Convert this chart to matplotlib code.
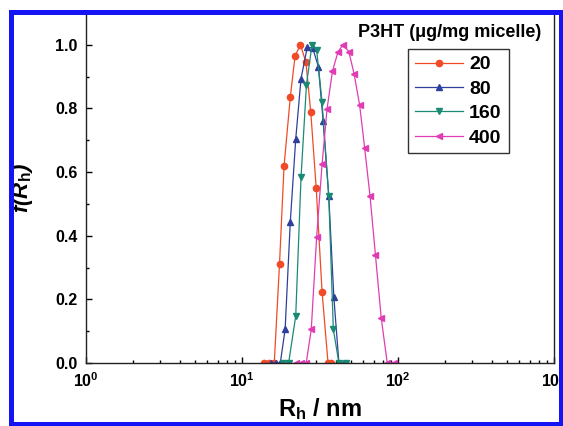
import matplotlib
matplotlib.use("Agg")
import matplotlib.pyplot as plt
from matplotlib.patches import Rectangle
from matplotlib.ticker import LogLocator, MultipleLocator, FixedLocator, FixedFormatter

plt.rcParams['font.family'] = ['Liberation Sans', 'DejaVu Sans']
plt.rcParams['font.weight'] = 'bold'
plt.rcParams['mathtext.fontset'] = 'custom'
plt.rcParams['mathtext.rm'] = 'Liberation Sans:bold'
plt.rcParams['mathtext.it'] = 'Liberation Sans:bold:italic'
plt.rcParams['mathtext.bf'] = 'Liberation Sans:bold'
plt.rcParams['mathtext.default'] = 'bf'

# hydrodynamic radius distributions (R_h in nm)
rh_20 = [13.8, 14.9, 16.1, 17.4, 18.6, 20.4, 21.9, 23.7, 25.7, 27.6, 29.9, 32.6, 35.6, 37.2]
f_20 = [0, 0, 0, 0.312, 0.619, 0.836, 0.966, 1.0, 0.945, 0.788, 0.55, 0.224, 0, 0]

rh_80 = [15.3, 16.5, 17.6, 18.9, 20.4, 22.1, 23.9, 26.2, 28.4, 30.9, 33.1, 36.0, 38.8, 41.8, 45.2]
f_80 = [0, 0, 0, 0.106, 0.444, 0.704, 0.894, 0.992, 0.99, 0.931, 0.762, 0.524, 0.206, 0, 0]

rh_160 = [18.4, 19.9, 22.1, 23.9, 25.9, 28.1, 30.1, 32.6, 36.0, 38.5, 41.8, 46.5]
f_160 = [0, 0, 0.148, 0.584, 0.875, 1.0, 0.984, 0.82, 0.524, 0.106, 0, 0]

rh_400 = [22.1, 23.9, 25.8, 27.8, 30.1, 32.6, 35.1, 38.0, 41.3, 44.5, 48.4, 52.4,
          56.8, 61.1, 66.2, 71.7, 78.0, 85.3, 94.9]
f_400 = [0, 0, 0, 0.106, 0.397, 0.624, 0.799, 0.917, 0.979, 1.0, 0.979, 0.907,
         0.81, 0.677, 0.524, 0.339, 0.143, 0, 0]

labels = ['20', '80', '160', '400']
colors = ['#f04a26', '#2f3f9c', '#1a8a74', '#e03db4']
markers = ['o', '^', 'v', '<']

xticks = [1, 10, 100, 1000]
xticklabels = [r'$10^{0}$', r'$10^{1}$', r'$10^{2}$', r'$10^{3}$']

fig = plt.figure(figsize=(5.63, 4.26), dpi=100)
ax = fig.add_axes([86/563, 1 - 363/426, 468/563, 349/426])

series = [(rh_20, f_20), (rh_80, f_80), (rh_160, f_160), (rh_400, f_400)]
for (x, y), lab, c, m in zip(series, labels, colors, markers):
    ax.plot(x, y, color=c, lw=0.9, marker=m, ms=4.5, mec=c, mfc=c, label=lab)

ax.set_xscale('log')
ax.set_xlim(1, 1000)
ax.set_ylim(0, 1.097)

ax.xaxis.set_major_locator(FixedLocator(xticks))
ax.xaxis.set_major_formatter(FixedFormatter(xticklabels))
ax.xaxis.set_minor_locator(LogLocator(base=10, subs=range(2, 10)))
ax.yaxis.set_major_locator(MultipleLocator(0.2))
ax.yaxis.set_minor_locator(MultipleLocator(0.1))
ax.yaxis.set_major_formatter(matplotlib.ticker.FormatStrFormatter('%.1f'))

ax.tick_params(which='both', direction='in', top=False, right=False, width=1.0)
ax.tick_params(which='major', length=4.5, labelsize=11.5, pad=6)
ax.tick_params(which='minor', length=2.5)
ax.spines['top'].set_visible(False)
for s in ['left', 'bottom', 'right']:
    ax.spines[s].set_linewidth(1.0)
    ax.spines[s].set_color('#222222')

ax.set_xlabel('R$_{h}$ / nm', fontsize=17, fontweight='bold')
ax.xaxis.set_label_coords(0.5, -0.095)
ax.set_ylabel('f(R$_{h}$)', fontsize=16, fontweight='bold', style='italic')
ax.yaxis.set_label_coords(-0.11, 0.5)

leg = ax.legend(loc='upper left', bbox_to_anchor=(0.688, 0.900), borderaxespad=0,
                fontsize=14, handlelength=2.5, labelspacing=0.35, handletextpad=0.3,
                borderpad=0.35, fancybox=False, framealpha=1, edgecolor='#333333')
leg.get_frame().set_linewidth(1.0)
ax.text(0.776, 0.946, 'P3HT (\u03bcg/mg micelle)', transform=ax.transAxes,
        ha='center', va='center', fontsize=13, fontweight='bold')

# blue frame round the picture
fig.patches.append(Rectangle((10.5/563, 2/426), (561 - 10.5)/563, (426 - 11.5 - 2)/426,
                             transform=fig.transFigure, fill=False,
                             edgecolor='#1414f5', lw=3.6, zorder=10))

fig.savefig('out.png', dpi=100)
